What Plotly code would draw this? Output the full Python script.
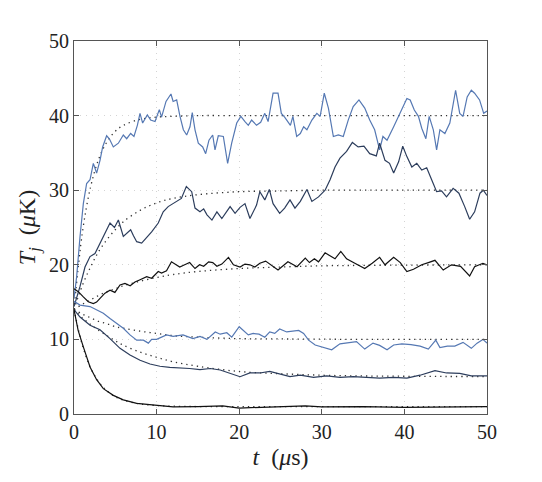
import plotly.graph_objects as go

# ---------------- data ----------------
# Line A (blue, -> 40 uK)
tA = [0, 0.32, 0.73, 1.13, 1.53, 1.94, 2.34, 2.74, 3.15, 3.47, 3.95, 4.28, 4.76, 5.37, 5.97, 6.38, 6.86, 7.26,
      7.67, 7.99, 8.31, 8.88, 9.28, 9.81, 10.33, 10.6, 11.14, 11.74, 12.0, 12.43, 12.83, 13.24, 13.64, 14.04,
      14.32, 14.65, 15.05, 15.58, 15.94, 16.34, 16.79, 17.07, 17.47, 18.08, 18.6, 19.09, 19.7, 20.2, 20.7,
      21.1, 21.5, 22.1, 22.6, 23.1, 23.5, 24.1, 24.7, 25.1, 25.5, 26.2, 26.5, 26.96, 27.4, 27.8, 28.2, 28.8,
      29.4, 29.8, 30.3, 30.8, 31.4, 32.0, 32.6, 33.2, 33.8, 34.5, 35.2, 35.8, 36.4, 37.0, 37.4, 37.9, 38.7,
      39.3, 39.9, 40.3, 40.7, 41.2, 41.7, 42.1, 42.6, 43.0, 43.5, 43.9, 44.3, 44.9, 45.5, 46.2, 46.7, 47.1,
      47.6, 48.1, 48.5, 49.1, 49.6, 50]
TA = [15.5, 18.4, 23.8, 28.2, 30.9, 31.4, 33.6, 32.3, 34.0, 35.8, 37.3, 36.9, 35.8, 36.3, 37.4, 36.9, 37.6, 37.2,
      38.7, 40.3, 39.0, 40.1, 39.4, 39.2, 40.8, 39.8, 41.9, 42.9, 41.9, 42.1, 39.9, 38.1, 37.4, 38.5,
      40.4, 38.1, 36.3, 35.8, 34.9, 36.7, 37.4, 35.4, 37.3, 37.2, 33.6, 36.3, 39.0, 39.9, 39.2,
      38.7, 39.4, 38.7, 39.1, 40.3, 39.2, 43.0, 43.0, 40.3, 39.8, 38.7, 39.9, 37.2, 37.6, 38.5, 38.1, 39.4,
      40.3, 39.9, 43.0, 41.0, 37.2, 37.4, 37.2, 39.4, 41.2, 42.1, 41.0, 39.4, 38.1, 35.4, 37.2, 36.7, 38.5,
      39.9, 41.2, 42.3, 42.1, 40.75, 39.9, 38.3, 36.9, 39.9, 38.1, 35.4, 38.1, 37.6, 39.0, 43.4, 40.3, 39.9,
      42.5, 43.4, 43.0, 42.1, 40.3, 40.6]

# Line B (dark slate, -> 30 uK)
tB = [0, 0.73, 1.33, 1.94, 2.54, 3.35, 4.36, 4.9, 5.37, 5.97, 6.4, 6.86, 7.2, 7.59, 8.19, 8.8, 9.4, 10.2, 10.8,
      11.4, 12.2, 13.0, 13.6, 14.25, 14.65, 15.25, 15.7, 16.1, 16.7, 17.3, 17.9, 18.9, 19.5, 20.1, 20.7,
      21.3, 22.1, 22.5, 23.1, 23.65, 24.1, 24.9, 25.5, 26.15, 26.75, 27.4, 28.2, 28.8, 29.6, 30.4, 31.0,
      31.6, 32.2, 33.0, 33.7, 34.4, 35.1, 35.8, 36.6, 37.0, 37.65, 38.2, 38.7, 39.3, 39.8, 40.3, 40.9,
      41.5, 42.1, 42.7, 43.3, 43.9, 44.5, 45.1, 45.9, 46.6, 47.3, 47.9, 48.5, 49.15, 49.55, 50]
TB = [14.4, 17.1, 19.7, 21.1, 21.5, 23.3, 25.6, 25.0, 26.0, 23.8, 24.3, 24.7, 23.9, 23.1, 22.9, 23.6, 24.4, 25.6, 27.1,
      27.8, 28.3, 28.9, 30.5, 29.8, 27.6, 27.1, 27.5, 26.7, 26.0, 27.1, 26.2, 27.8, 26.9, 27.7, 28.2,
      26.2, 28.0, 29.8, 28.7, 30.1, 28.2, 26.9, 27.6, 28.7, 27.6, 28.5, 30.1, 28.5, 29.1, 30.0, 31.4,
      33.1, 34.3, 35.2, 36.4, 35.8, 35.9, 34.9, 34.6, 36.3, 34.0, 33.6, 32.3, 33.8, 35.9, 34.5, 33.1,
      33.6, 32.7, 33.0, 31.4, 29.8, 29.9, 29.1, 30.25, 29.6, 27.8, 26.1, 27.1, 29.6, 30.0, 29.3]

# Line C (black, -> 20 uK)
tC = [0, 0.52, 1.13, 1.73, 2.34, 2.74, 3.15, 3.75, 4.36, 4.95, 5.57, 6.17, 6.8, 7.38, 8.0, 8.8, 9.4, 10.2, 10.6,
      11.2, 11.8, 12.8, 13.4, 14.0, 14.65, 15.2, 15.7, 16.3, 16.8, 17.3, 17.9, 18.7, 19.3, 20.1, 20.7,
      21.3, 21.9, 22.5, 23.2, 23.9, 24.7, 25.9, 27.0, 28.0, 28.5, 29.1, 29.6, 30.4, 31.0, 31.6, 32.3,
      33.0, 34.0, 35.2, 36.1, 37.0, 37.65, 38.7, 39.5, 40.3, 41.1, 42.1, 42.9, 43.7, 44.7, 45.7, 46.8,
      47.9, 48.5, 49.5, 50]
TC = [16.8, 16.4, 15.7, 15.05, 14.8, 15.0, 15.5, 16.2, 16.6, 16.3, 17.3, 17.5, 17.2, 17.7, 18.0, 18.4, 18.2, 19.1, 18.9,
      19.2, 20.4, 19.7, 20.0, 20.3, 19.5, 20.0, 19.8, 20.4, 20.3, 19.8, 20.1, 21.0, 20.0, 19.7, 20.1,
      20.0, 19.7, 20.2, 20.5, 19.9, 19.3, 20.4, 19.75, 20.9, 20.3, 20.8, 20.4, 21.6, 21.2, 20.8, 21.8,
      20.8, 20.2, 19.5, 20.2, 21.0, 20.0, 21.0, 20.3, 19.1, 19.4, 20.0, 20.3, 20.6, 19.3, 20.0, 19.8,
      18.5, 19.75, 20.2, 20.0]

# Line D (blue, -> 10 uK)
tD = [0, 0.73, 1.94, 2.74, 3.55, 4.36, 5.17, 5.97, 6.78, 7.59, 8.4, 9.0, 9.4, 10.0, 11.2, 12.0, 13.2, 14.4,
      15.25, 16.1, 17.1, 17.7, 18.5, 19.1, 20.0, 21.1, 21.7, 22.4, 23.1, 23.7, 24.3, 24.9, 25.75, 26.5, 27.2,
      27.8, 28.4, 29.2, 30.2, 31.2, 32.2, 33.0, 34.2, 35.2, 36.2, 37.0, 37.9, 38.7, 39.7, 40.8, 41.9, 42.9,
      43.8, 44.3, 45.2, 46.1, 47.1, 48.1, 48.8, 49.5, 50]
TD = [15.1, 14.6, 14.4, 13.9, 13.5, 12.8, 12.2, 11.5, 10.6, 9.9, 9.9, 9.5, 10.0, 10.0, 10.6, 10.4, 10.6, 10.1,
      10.4, 10.0, 11.0, 10.7, 10.9, 10.3, 11.7, 10.6, 10.8, 10.7, 10.3, 11.0, 10.8, 11.4, 11.0, 11.1, 11.2,
      10.8, 9.9, 9.25, 8.9, 8.6, 9.4, 9.5, 9.7, 8.7, 9.5, 9.2, 8.6, 9.25, 9.4, 9.3, 9.1, 8.7,
      9.9, 8.9, 9.1, 9.1, 9.6, 8.8, 9.5, 10.0, 9.5]

# Line E (dark slate, -> 5 uK)
tE = [0, 0.73, 1.94, 3.15, 4.36, 5.57, 6.78, 8.0, 9.2, 10.4, 11.6, 12.8, 14.0, 15.25, 16.5, 17.7, 18.9, 20.1,
      21.3, 22.5, 23.7, 24.9, 26.15, 27.4, 29.0, 30.6, 32.2, 33.8, 35.4, 37.0, 38.7, 40.3, 41.9, 43.7,
      45.1, 46.7, 48.1, 50]
TE = [14.0, 13.0, 11.9, 11.3, 10.1, 8.8, 7.9, 7.2, 6.7, 6.4, 6.26, 6.2, 6.1, 5.95, 6.1, 5.9, 5.45, 5.0,
      5.5, 5.5, 5.7, 5.4, 5.0, 5.2, 4.9, 5.1, 4.9, 5.0, 4.9, 4.8, 4.9, 4.8, 5.2, 5.8,
      5.5, 5.45, 5.1, 5.1]

# Line F (black, -> 1 uK)
tF = [0, 0.5, 1.13, 1.94, 2.74, 3.55, 4.76, 5.97, 7.59, 10, 12, 15, 18, 20, 22, 25, 28, 30, 35, 40, 45, 50]
TF = [14.0, 11.2, 9.0, 6.3, 4.6, 3.4, 2.5, 1.9, 1.43, 1.12, 0.95, 1.0, 1.1, 0.8, 0.9, 1.0, 1.1, 0.95, 1.0, 0.9, 1.0, 1.0]

# Dotted reference curves (values read at these times)
tRef = [0, 1, 2, 3, 4, 5, 6, 8, 10, 12, 15, 20, 25, 30, 35, 40, 45, 50]
R40 = [14, 24.2, 30.4, 34.2, 36.5, 37.9, 38.7, 39.5, 39.8, 39.9, 40, 40, 40, 40, 40, 40, 40, 40]
R30 = [14, 17.2, 19.7, 21.8, 23.4, 24.7, 25.8, 27.3, 28.3, 28.9, 29.4, 29.8, 29.9, 30, 30, 30, 30, 30]
R20 = [14, 14.7, 15.3, 15.9, 16.4, 16.8, 17.2, 17.8, 18.3, 18.7, 19.1, 19.5, 19.7, 19.86, 19.92, 19.96, 19.98, 20]
R10 = [14, 13.4, 12.9, 12.4, 12.1, 11.7, 11.5, 11.1, 10.8, 10.5, 10.3, 10.1, 10.06, 10.03, 10, 10, 10, 10]
R5 = [14, 12.9, 12.0, 11.2, 10.5, 9.8, 9.2, 8.3, 7.6, 7.0, 6.4, 5.7, 5.4, 5.2, 5.1, 5.06, 5.03, 5.02]
R1 = [14, 9.3, 6.2, 4.3, 3.1, 2.3, 1.85, 1.34, 1.14, 1.05, 1.0, 1.0, 1.0, 1.0, 1.0, 1.0, 1.0, 1.0]

xticks = [0, 10, 20, 30, 40, 50]
yticks = [0, 10, 20, 30, 40, 50]

BLUE = "#5578b3"
SLATE = "#2c3d5c"
BLACK = "#111111"

fig = go.Figure()
for ref in [R40, R30, R20, R10, R5, R1]:
    fig.add_trace(go.Scatter(x=tRef, y=ref, mode="lines",
                             line=dict(color="#333333", width=1.3, dash="1.3px,4px", shape="spline"),
                             showlegend=False, hoverinfo="skip"))

for tx, ty, col in [(tA, TA, BLUE), (tB, TB, SLATE), (tC, TC, BLACK), (tD, TD, BLUE), (tE, TE, SLATE), (tF, TF, BLACK)]:
    fig.add_trace(go.Scatter(x=tx, y=ty, mode="lines", line=dict(color=col, width=1.2), showlegend=False))

font_fam = "Liberation Serif, DejaVu Serif, serif"
axis_common = dict(
    showline=True, linecolor="#555555", linewidth=1.2, mirror="ticks",
    ticks="inside", ticklen=5, tickcolor="#555555",
    showgrid=True, gridcolor="#d4d4d4", griddash="1px,5px", gridwidth=1,
    zeroline=False, tickfont=dict(family=font_fam, size=20, color="#222222"),
)
fig.update_xaxes(range=[0, 50], tickvals=xticks, ticktext=[str(v) for v in xticks],
                 title=dict(text="<i>t</i>\u00a0\u00a0(<i>μ</i>s)", font=dict(family=font_fam, size=24, color="#222222"), standoff=6),
                 **axis_common)
fig.update_yaxes(range=[0, 50], tickvals=yticks, ticktext=[str(v) for v in yticks],
                 title=dict(text="<i>T<sub>j</sub></i>\u00a0\u00a0(<i>μ</i>K)", font=dict(family=font_fam, size=24, color="#222222"), standoff=6),
                 **axis_common)
fig.update_layout(width=542, height=482, margin=dict(l=74, r=55, t=41, b=68),
                  plot_bgcolor="white", paper_bgcolor="white")
fig.write_html("out.html")
